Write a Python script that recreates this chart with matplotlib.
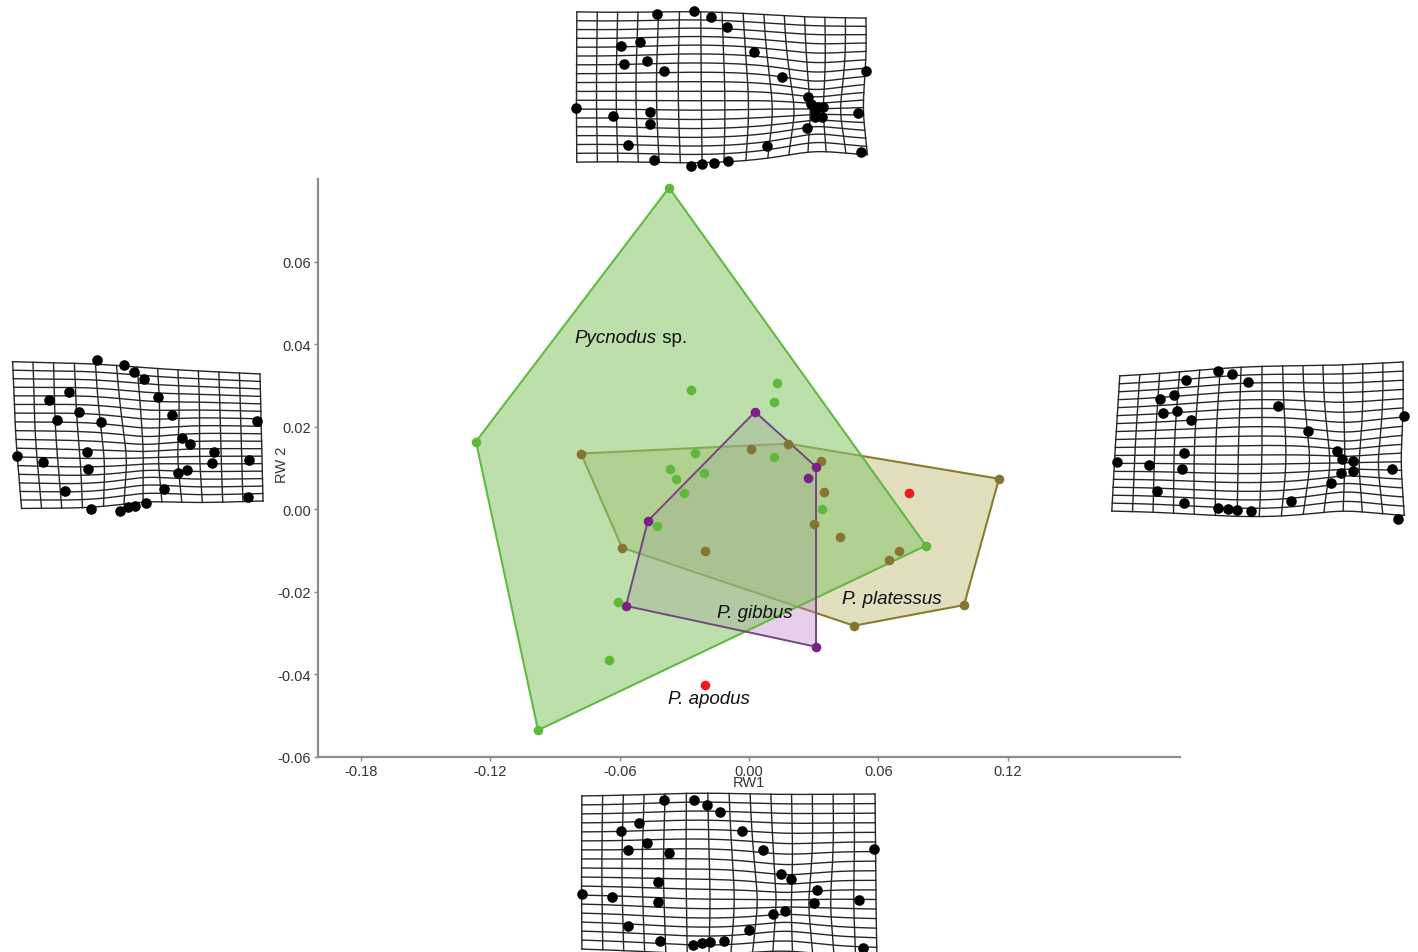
import numpy as np
import matplotlib
matplotlib.use("Agg")
from matplotlib import pyplot as plt

plt.rcParams['font.family'] = ['Liberation Sans', 'DejaVu Sans']

# relative warp scores (RW1, RW2) per taxon
pycnodus_x = [-0.0371, 0.0821, -0.0979, -0.1267, -0.0269, 0.0130, 0.0116, -0.0251,
              0.0116, -0.0367, -0.0339, -0.0209, -0.0302, -0.0427, -0.0608, -0.0650, 0.0339]
pycnodus_y = [0.0779, -0.0088, -0.0535, 0.0164, 0.0290, 0.0307, 0.0261, 0.0137,
              0.0127, 0.0097, 0.0074, 0.0088, 0.0040, -0.0040, -0.0224, -0.0365, 0.0001]

platessus_x = [-0.0780, 0.0181, 0.1160, 0.0998, 0.0487, -0.0589, 0.0009, 0.0334,
               0.0348, 0.0302, 0.0422, 0.0696, 0.0650, -0.0204]
platessus_y = [0.0135, 0.0159, 0.0074, -0.0232, -0.0282, -0.0093, 0.0147, 0.0118,
               0.0042, -0.0035, -0.0067, -0.0101, -0.0122, -0.0101]

gibbus_x = [0.0028, 0.0311, 0.0274, -0.0469, -0.0571, 0.0311]
gibbus_y = [0.0236, 0.0103, 0.0076, -0.0028, -0.0234, -0.0333]

apodus_x = [-0.0204, 0.0742]
apodus_y = [-0.0425, 0.0040]

xticks = [-0.18, -0.12, -0.06, 0.00, 0.06, 0.12]
yticks = [-0.06, -0.04, -0.02, 0.00, 0.02, 0.04, 0.06]

# landmark configurations of the deformation grids (inset pixel units)
top_lm = [(83, 7), (120, 4), (137, 10), (153, 20), (47, 39), (66, 35), (50, 57), (73, 54),
          (90, 64), (180, 45), (208, 70), (292, 64), (2, 101), (39, 109), (76, 105), (76, 117),
          (54, 138), (80, 153), (117, 159), (128, 157), (140, 156), (154, 154), (193, 139),
          (234, 90), (237, 97), (241, 104), (244, 100), (249, 100), (241, 110), (248, 110),
          (233, 121), (284, 106), (287, 145)]
left_lm = [(87, 6), (114, 11), (124, 18), (134, 25), (59, 38), (39, 46), (69, 58), (47, 66),
           (91, 68), (148, 43), (162, 61), (247, 67), (7, 102), (33, 108), (77, 98), (78, 115),
           (55, 137), (81, 155), (110, 157), (118, 153), (125, 152), (136, 149), (154, 135),
           (172, 84), (180, 90), (204, 98), (202, 109), (239, 106), (177, 116), (168, 119),
           (238, 143)]
right_lm = [(111, 14), (125, 17), (141, 25), (79, 23), (67, 38), (53, 42), (56, 56), (70, 54),
            (84, 63), (171, 49), (201, 74), (297, 59), (10, 105), (42, 108), (77, 96), (75, 112),
            (50, 134), (77, 146), (111, 151), (121, 152), (130, 153), (144, 154), (184, 144),
            (230, 94), (235, 102), (246, 104), (246, 114), (234, 116), (224, 126), (285, 112),
            (291, 162)]
bottom_lm = [(86, 9), (116, 9), (129, 14), (142, 21), (61, 32), (43, 40), (69, 52), (50, 59),
             (91, 62), (164, 40), (185, 59), (296, 58), (4, 103), (34, 106), (80, 91), (80, 111),
             (50, 135), (82, 150), (115, 154), (124, 152), (132, 151), (146, 150), (171, 139),
             (203, 83), (213, 88), (239, 99), (236, 112), (281, 109), (207, 120), (195, 123),
             (285, 157)]

W, H = 1418, 953


def hull(xs, ys):
    pts = sorted(set(zip(xs, ys)))

    def cross(o, a, b):
        return (a[0] - o[0]) * (b[1] - o[1]) - (a[1] - o[1]) * (b[0] - o[0])

    lower, upper = [], []
    for p in pts:
        while len(lower) >= 2 and cross(lower[-2], lower[-1], p) <= 0:
            lower.pop()
        lower.append(p)
    for p in reversed(pts):
        while len(upper) >= 2 and cross(upper[-2], upper[-1], p) <= 0:
            upper.pop()
        upper.append(p)
    h = lower[:-1] + upper[:-1]
    return [p[0] for p in h], [p[1] for p in h]


def warp_grid(ax, corners, ncols, nrows, foci):
    tl, tr, br, bl = [np.array(c, float) for c in corners]

    def mapping(u, v):
        p = ((1 - u) * (1 - v))[:, None] * tl + (u * (1 - v))[:, None] * tr \
            + (u * v)[:, None] * br + ((1 - u) * v)[:, None] * bl
        out = p.copy()
        # pull towards (k > 0) or push away from (k < 0) each focus
        for fx, fy, k, r in foci:
            d = p - np.array([fx, fy], float)
            w = k * np.exp(-(d ** 2).sum(1) / r ** 2)
            out -= w[:, None] * d
        return out

    t = np.linspace(0, 1, 150)
    for j in range(nrows + 1):
        p = mapping(t, np.full_like(t, j / nrows))
        ax.plot(p[:, 0], p[:, 1], color='#262626', lw=1.0, clip_on=False)
    for i in range(ncols + 1):
        p = mapping(np.full_like(t, i / ncols), t)
        ax.plot(p[:, 0], p[:, 1], color='#262626', lw=1.0, clip_on=False)


def inset(fig, x0, y0, w, h, landmarks, corners, ncols, foci):
    ax = fig.add_axes([x0 / W, 1 - (y0 + h) / H, w / W, h / H])
    warp_grid(ax, corners, ncols, 17, foci)
    lx = [p[0] for p in landmarks]
    ly = [p[1] for p in landmarks]
    ax.scatter(lx, ly, s=58, color='black', zorder=3, clip_on=False, linewidths=0)
    ax.set_xlim(0, w)
    ax.set_ylim(h, 0)
    ax.axis('off')
    return ax


fig = plt.figure(figsize=(W / 100, H / 100), dpi=100)
ax = fig.add_axes([318 / W, 1 - 758 / H, 862 / W, 578 / H])

# hulls drawn back to front: P. platessus, P. gibbus, Pycnodus sp.
px, py = hull(platessus_x, platessus_y)
ax.fill(px, py, color='#b8b060', alpha=0.40, lw=0, zorder=1)
ax.plot(px + px[:1], py + py[:1], color='#8a7c2e', lw=1.5, zorder=1)

gx, gy = hull(gibbus_x, gibbus_y)
ax.fill(gx, gy, color='#c07ccc', alpha=0.36, lw=0, zorder=1)

cx, cy = hull(pycnodus_x, pycnodus_y)
ax.fill(cx, cy, color='#8cc870', alpha=0.58, lw=0, zorder=1)
ax.plot(cx + cx[:1], cy + cy[:1], color='#62ba42', lw=1.5, zorder=2)
ax.plot(gx + gx[:1], gy + gy[:1], color='#74487e', lw=1.4, zorder=2)

ax.scatter(platessus_x, platessus_y, s=48, color='#857532', zorder=3, linewidths=0)
ax.scatter(gibbus_x, gibbus_y, s=48, color='#7a2188', zorder=3, linewidths=0)
ax.scatter(pycnodus_x, pycnodus_y, s=48, color='#5fba3c', zorder=3, linewidths=0)
ax.scatter(apodus_x, apodus_y, s=48, color='#ee1b1b', zorder=3, linewidths=0)

t = ax.text(-0.081, 0.0416, 'Pycnodus', style='italic', fontsize=13.5, va='center', color='#111')
ax.annotate(' sp.', xy=(1, 0), xycoords=t, va='bottom', ha='left', fontsize=13.5, color='#111')
ax.text(-0.0149, -0.0251, 'P. gibbus', style='italic', fontsize=13.5, va='center', color='#111')
ax.text(0.0433, -0.0217, 'P. platessus', style='italic', fontsize=13.5, va='center', color='#111')
ax.text(-0.0377, -0.0459, 'P. apodus', style='italic', fontsize=13.5, va='center', color='#111')

ax.set_xlim(-0.2, 0.2)
ax.set_ylim(-0.06, 0.08)
ax.set_xticks(xticks)
ax.set_xticklabels(['%.2f' % v for v in xticks])
ax.set_yticks(yticks)
ax.set_yticklabels(['%.2f' % v for v in yticks])
for s in ['top', 'right']:
    ax.spines[s].set_visible(False)
for s in ['left', 'bottom']:
    ax.spines[s].set_color('#8c8c8c')
    ax.spines[s].set_linewidth(1.6)
ax.tick_params(direction='out', length=3, width=1, color='#8c8c8c',
               labelsize=10.5, labelcolor='#333333', pad=2)
ax.set_xlabel('RW1', fontsize=10.5, color='#333333', labelpad=-2)
ax.set_ylabel('RW 2', fontsize=10.5, color='#333333')
ax.yaxis.set_label_coords(-0.034, 0.507)
ax.patch.set_alpha(0)

inset(fig, 574, 8, 298, 162, top_lm,
      [(3, 5), (292, 11), (295, 149), (3, 155)], 14,
      [(241, 104, 0.35, 45), (130, 85, -0.12, 70)])
inset(fig, 10, 355, 255, 163, left_lm,
      [(3, 8), (250, 20), (253, 147), (12, 154)], 12,
      [(133, 105, 0.25, 40), (80, 80, -0.10, 60)])
inset(fig, 1107, 358, 305, 166, right_lm,
      [(13, 19), (296, 5), (298, 159), (5, 154)], 14,
      [(238, 107, 0.3, 45), (140, 90, -0.12, 70)])
inset(fig, 578, 792, 300, 161, bottom_lm,
      [(4, 5), (297, 3), (299, 166), (4, 158)], 14,
      [(207, 113, 0.25, 45), (120, 80, -0.10, 65)])

fig.savefig('out.png', dpi=100)
